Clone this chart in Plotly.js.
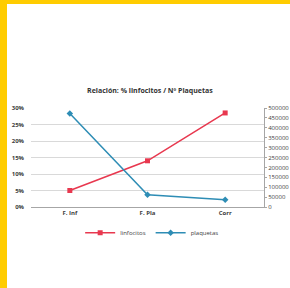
<!DOCTYPE html>
<html><head><meta charset="utf-8">
<script src="https://cdn.plot.ly/plotly-3.0.1.min.js"></script>
<style>
html,body{margin:0;padding:0;background:#FFCC00;width:290px;height:288px;overflow:hidden}
#chart{position:absolute;left:7px;top:4px;width:283px;height:284px;background:#fff}
</style></head><body>
<div id="chart"></div>
<script>
const categories = ["F. Inf", "F. Pla", "Corr"];
const linfocitos = [0.05, 0.14, 0.285];
const plaquetas = [472000, 62000, 36000];
const leftTicks = [0, 0.05, 0.10, 0.15, 0.20, 0.25, 0.30];
const leftLabels = ["0%", "5%", "10%", "15%", "20%", "25%", "30%"];
const rightTicks = [0, 50000, 100000, 150000, 200000, 250000, 300000, 350000, 400000, 450000, 500000];

const traces = [
  {x: categories, y: linfocitos, name: "linfocitos", type: "scatter", mode: "lines+markers",
   line: {color: "#E8384F", width: 1.5}, marker: {symbol: "square", size: 5, color: "#E8384F"}},
  {x: categories, y: plaquetas, name: "plaquetas", type: "scatter", mode: "lines+markers", yaxis: "y2",
   line: {color: "#2E8DB5", width: 1.5}, marker: {symbol: "diamond", size: 5, color: "#2E8DB5"}}
];
const tf = {family: "Open Sans, Arial, sans-serif", size: 6, color: "#404040", weight: "bold"};
const layout = {
  width: 283, height: 284,
  margin: {l: 24, r: 26, t: 104, b: 81, pad: 0},
  paper_bgcolor: "#fff", plot_bgcolor: "#fff",
  showlegend: true,
  title: {text: "<b>Relación: % linfocitos / Nº Plaquetas</b>", x: 0.505, xanchor: "center", y: 0.694, yanchor: "middle",
    font: {family: "Open Sans, Arial, sans-serif", size: 7, color: "#333"}},
  xaxis: {type: "category", tickfont: tf, showgrid: false, showline: true,
    linecolor: "#A6A6A6", linewidth: 1, ticks: "", ticklen: 0, range: [-0.5, 2.5],
    tickvals: categories, ticktext: categories},
  yaxis: {range: [0, 0.30], tickvals: leftTicks, ticktext: leftLabels, tickfont: tf, showgrid: true,
    gridcolor: "#D9D9D9", gridwidth: 1, zeroline: false, showline: false, ticks: "", ticklabelstandoff: 6},
  yaxis2: {overlaying: "y", side: "right", range: [0, 500000], tickvals: rightTicks,
    ticktext: rightTicks.map(String), tickfont: Object.assign({}, tf, {weight: "normal"}), showgrid: false, zeroline: false,
    showline: true, linecolor: "#A6A6A6", linewidth: 1, ticks: "outside", ticklen: 2, tickcolor: "#A6A6A6"},
  legend: {orientation: "h", x: 0.52, xanchor: "center", y: -0.26, yanchor: "middle",
    font: {family: "Open Sans, Arial, sans-serif", size: 6, color: "#404040"}, itemwidth: 30,
    tracegroupgap: 0, bgcolor: "rgba(0,0,0,0)"}
};
Plotly.newPlot("chart", traces, layout, {displayModeBar: false, staticPlot: true});
</script>
</body></html>
